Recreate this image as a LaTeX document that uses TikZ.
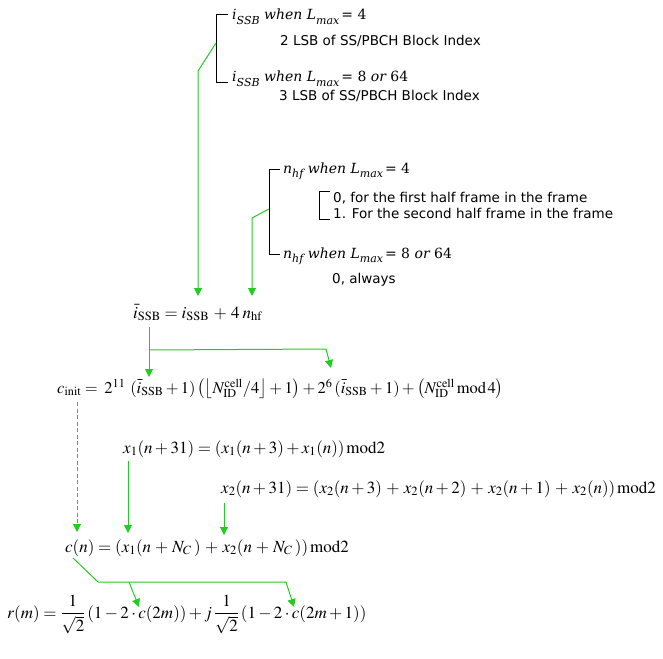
\documentclass[tikz,border=0pt]{standalone}
\usepackage{mathptmx}
\usepackage{fontspec}
\setmainfont{Liberation Serif}
\newfontfamily\vfont{DejaVu Sans}
\newfontfamily\dsf{DejaVu Serif}
\newcommand\lsub[1]{\raisebox{-0.3em}{\fontsize{11}{12}\selectfont\itshape #1}}
\newcommand\kk[1]{\kern#1pt}
\usetikzlibrary{arrows.meta,calc}
\definecolor{grn}{RGB}{34,204,34}
\tikzset{
  lbl/.style={anchor=base west, inner sep=0pt, font=\dsf\fontsize{14}{16}\selectfont},
  desc/.style={anchor=base west, inner sep=0pt, font=\vfont\fontsize{13.5}{15}\selectfont},
  eq/.style={anchor=base west, inner sep=0pt, font=\fontsize{17}{20}\selectfont},
  brk/.style={draw=black, line width=0.9pt},
  link/.style={draw=grn, line width=1pt, -{Triangle[width=8pt,length=8pt]}},
  dlink/.style={link, line width=0.8pt, dash pattern=on 4pt off 2.5pt},
}
\begin{document}
\begin{tikzpicture}[x=1pt,y=-1pt]
\useasboundingbox (0,0) rectangle (663,658);
% top labels
\node[lbl] (t1) at (232,20) {\itshape i\lsub{SSB} when L\lsub{max}\kk{2} \upshape= 4};
\node[desc] (t1d) at (280,46) {2 LSB of SS/PBCH Block Index};
\node[lbl] (t2) at (232,82) {\itshape i\lsub{SSB} when L\lsub{max}\kk{2} \upshape= 8 \itshape or \upshape 64};
\node[desc] (t2d) at (279,101) {3 LSB of SS/PBCH Block Index};
\draw[brk] (228,14) -- (216,14) -- (216,82) -- (228,82);
% n_hf labels
\node[lbl] (h1) at (283,173) {\itshape n\lsub{hf} when L\lsub{max}\kk{2} \upshape= 4};
\node[desc] (h1a) at (333,202) {0, for the first half frame in the frame};
\node[desc] (h1b) at (333,218) {1. For the second half frame in the frame};
\node[lbl] (h2) at (283,258) {\itshape n\lsub{hf} when L\lsub{max}\kk{2} \upshape= 8 \itshape or \upshape 64};
\node[desc] (h2d) at (332,283) {0, always};
\draw[brk] (280,169) -- (269,169) -- (269,254) -- (280,254);
\draw[brk] (330,191) -- (319,191) -- (319,219) -- (330,219);
% equations
\node[eq] (ibar) at (133,318) {$\bar{i}_{\mathrm{SSB}}=i_{\mathrm{SSB}}\kk{2}+\kk{2}4\kk{3}n_{\mathrm{hf}}$};
\node[eq, font=\fontsize{16.5}{20}\selectfont] (cinit) at (57,393) {$c_{\mathrm{init}}=\kk{3}2^{11}\kk{3}\left(\bar{i}_{\mathrm{SSB}}+1\right)\left(\left\lfloor N_{\mathrm{ID}}^{\mathrm{cell}}/4\right\rfloor+1\right)+2^{6}\left(\bar{i}_{\mathrm{SSB}}+1\right)+\left(N_{\mathrm{ID}}^{\mathrm{cell}}\kk{2}\mathrm{mod}\kk{1.5}4\right)$};
\node[eq] (x1) at (123,453) {$x_1(n+31)=\left(x_1(n+3)+x_1(n)\right)\mathrm{mod}2$};
\node[eq] (x2) at (221,493) {$x_2(n+31)=\left(x_2(n+3)\kk{2}+\kk{2}x_2(n+2)\kk{2}+\kk{2}x_2(n+1)\kk{2}+\kk{2}x_2(n)\right)\mathrm{mod}2$};
\node[eq] (cn) at (65,552) {$c(n)=\left(x_1(n\kk{1.5}+\kk{1.5}N_C\kk{2.5})\kk{2}+\kk{2}x_2(n\kk{1.5}+\kk{1.5}N_C\kk{2.5})\right)\mathrm{mod}2$};
\node[eq] (rm) at (7,618) {$\displaystyle r(m)=\frac{1}{\sqrt{2}}\left(1-2\cdot c(2m)\right)+j\,\frac{1}{\sqrt{2}}\left(1-2\cdot c(2m+1)\right)$};
% connectors
\coordinate (b1) at (216,43);
\coordinate (b2) at (269,209);
\coordinate (tA) at (198,296);
\coordinate (tB) at (252,296);
\draw[link] (b1) -- (198,71) -- (tA);
\draw[link] (b2) -- (252,218) -- (tB);
\coordinate (s1) at (149,327);
\coordinate (tC) at (149,377);
\coordinate (tD) at (331,368);
\draw[link] (s1) -- (tC);
\draw[link] (149,350) -- (326,349) -- (tD);
\coordinate (s2) at (77,402);
\coordinate (tE) at (77,532);
\draw[dlink] (s2) -- (tE);
\coordinate (s3) at (128,461);
\coordinate (tF) at (128,533);
\draw[link] (s3) -- (tF);
\coordinate (s4) at (224,503);
\coordinate (tG) at (224,535);
\draw[link] (s4) -- (tG);
\coordinate (s5) at (73,558);
\coordinate (tH) at (139,607);
\coordinate (tI) at (294,607);
\draw[link] (s5) -- (98,582) -- (286,582) -- (tI);
\draw[link] (129,582) -- (tH);
\end{tikzpicture}
\end{document}
